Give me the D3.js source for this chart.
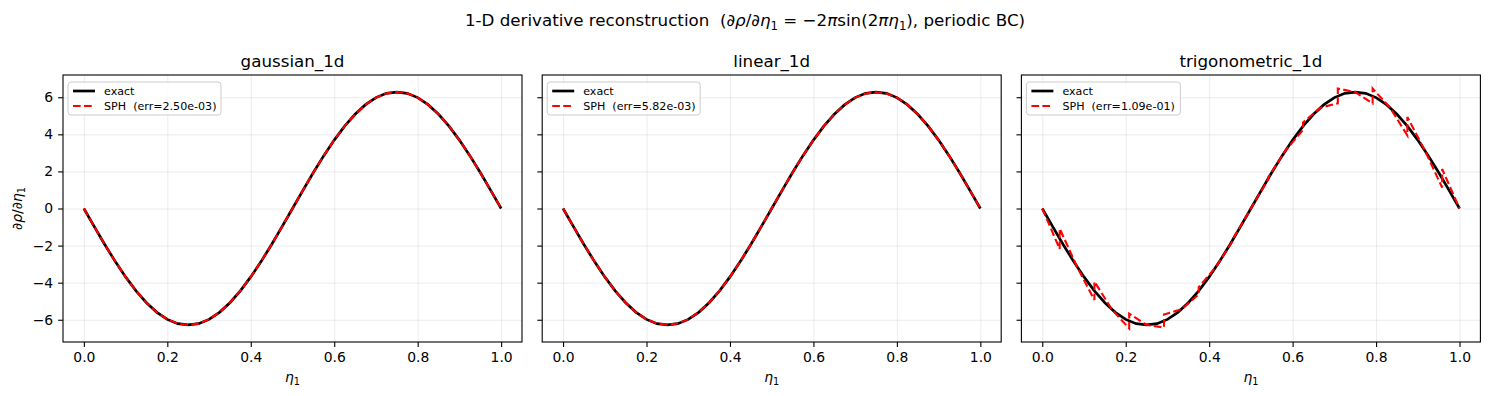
<!DOCTYPE html>
<html>
  <head>
    <meta charset="utf-8">
    <title>1-D derivative reconstruction</title>
    <style>
    body { margin: 0; background: #fff; }
    svg { font-family: "DejaVu Sans", sans-serif; }
    text { white-space: pre; }
    .grid line { stroke: #b0b0b0; stroke-opacity: 0.3; stroke-width: 0.8; }
    .grid path { display: none; }
    .axis path, .axis line { stroke: #000; stroke-width: 1.1; }
    .axis text { font-size: 13.9px; fill: #000; font-family: "DejaVu Sans", sans-serif; }
    </style>
  </head>
  <body>
    <svg width="1489" height="396"></svg>
    <script src="https://d3js.org/d3.v7.min.js"></script>
    <script>

      // ---- data ----
      var panelTitles = ["gaussian_1d", "linear_1d", "trigonometric_1d"];
      var errLabels = ["SPH  (err=2.50e-03)", "SPH  (err=5.82e-03)", "SPH  (err=1.09e-01)"];
      var xTicks = [0.0, 0.2, 0.4, 0.6, 0.8, 1.0];
      var yTicks = [-6, -4, -2, 0, 2, 4, 6];

      var eta = [0, 0.025, 0.05, 0.075, 0.1, 0.125, 0.15, 0.175, 0.2, 0.225,
                 0.25, 0.275, 0.3, 0.325, 0.35, 0.375, 0.4, 0.425, 0.45, 0.475,
                 0.5, 0.525, 0.55, 0.575, 0.6, 0.625, 0.65, 0.675, 0.7, 0.725,
                 0.75, 0.775, 0.8, 0.825, 0.85, 0.875, 0.9, 0.925, 0.95, 0.975, 1.0];

      var exact = [0, -0.98, -1.94, -2.85, -3.69, -4.44, -5.08, -5.60, -5.98, -6.21,
                   -6.28, -6.21, -5.98, -5.60, -5.08, -4.44, -3.69, -2.85, -1.94, -0.98,
                   0, 0.98, 1.94, 2.85, 3.69, 4.44, 5.08, 5.60, 5.98, 6.21,
                   6.28, 6.21, 5.98, 5.60, 5.08, 4.44, 3.69, 2.85, 1.94, 0.98, 0];

      var sphGaussian = [0, -0.98, -1.94, -2.85, -3.69, -4.44, -5.08, -5.60, -5.98, -6.21,
                         -6.28, -6.21, -5.98, -5.60, -5.08, -4.44, -3.69, -2.85, -1.94, -0.98,
                         0, 0.98, 1.94, 2.85, 3.69, 4.44, 5.08, 5.60, 5.98, 6.21,
                         6.28, 6.21, 5.98, 5.60, 5.08, 4.44, 3.69, 2.85, 1.94, 0.98, 0];

      var sphLinear = [0, -0.98, -1.94, -2.85, -3.69, -4.44, -5.08, -5.60, -5.98, -6.20,
                       -6.27, -6.20, -5.98, -5.60, -5.08, -4.44, -3.69, -2.85, -1.94, -0.98,
                       0, 0.98, 1.94, 2.85, 3.69, 4.44, 5.08, 5.60, 5.98, 6.20,
                       6.27, 6.20, 5.98, 5.60, 5.08, 4.44, 3.69, 2.85, 1.94, 0.98, 0];

      // trigonometric kernel: sawtooth jumps at the cell centres
      var etaTrig = [0, 0.0417, 0.0417, 0.0833, 0.125, 0.125, 0.1667, 0.2083, 0.2083, 0.25,
                     0.2917, 0.2917, 0.3333, 0.375, 0.375, 0.4167, 0.4583, 0.4583, 0.5,
                     0.5417, 0.5417, 0.5833, 0.625, 0.625, 0.6667, 0.7083, 0.7083, 0.75,
                     0.7917, 0.7917, 0.8333, 0.875, 0.875, 0.9167, 0.9583, 0.9583, 1.0];
      var sphTrig = [0, -2.18, -1.08, -3.14, -4.94, -3.94, -5.44, -6.47, -5.67, -6.28,
                     -6.42, -5.72, -5.44, -4.64, -4.24, -3.14, -1.68, -1.58, 0,
                     1.58, 1.68, 3.14, 4.24, 4.64, 5.44, 5.67, 6.47, 6.28,
                     5.67, 6.47, 5.44, 3.94, 4.94, 3.14, 1.13, 2.13, 0];

      var series = [
        {x: eta, y: sphGaussian},
        {x: eta, y: sphLinear},
        {x: etaTrig, y: sphTrig}
      ];

      // ---- layout ----
      var svg = d3.select("svg"),
          panelLeft = 63, panelStep = 479.2, panelWidth = 459,
          plotTop = 75, plotBottom = 342;

      var plotHeight = plotBottom - plotTop;

      var x = d3.scaleLinear().domain([-0.05, 1.05]).range([0, panelWidth]),
          y = d3.scaleLinear().domain([-7.2, 7.2]).range([plotHeight, 0]);

      // mathtext-like helper: parts are [text, "i" italic | "s" subscript | ""]
      function rich(sel, parts, size) {
        var shift = 0;
        parts.forEach(function(p) {
          var t = sel.append("tspan").text(p[0]);
          if (p[1].indexOf("i") >= 0) t.attr("font-style", "italic");
          if (p[1].indexOf("s") >= 0) {
            t.attr("font-size", size * 0.7).attr("dy", size * 0.22 - shift);
            shift = size * 0.22;
          } else if (shift) {
            t.attr("dy", -shift);
            shift = 0;
          }
        });
      }

      // suptitle
      var sup = svg.append("text")
          .attr("x", 745).attr("y", 26)
          .attr("text-anchor", "middle")
          .attr("font-size", 16.7);
      rich(sup, [["1-D derivative reconstruction  (", ""], ["\u2202\u03c1", "i"], ["/", ""],
                 ["\u2202\u03b7", "i"], ["1", "s"], [" = \u22122", ""], ["\u03c0", "i"], ["sin(2", ""],
                 ["\u03c0\u03b7", "i"], ["1", "s"], ["), periodic BC)", ""]], 16.7);

      var line = d3.line()
          .x(function(d) { return x(d[0]); })
          .y(function(d) { return y(d[1]); });

      panelTitles.forEach(function(title, i) {
        var g = svg.append("g")
            .attr("transform", "translate(" + (panelLeft + i * panelStep) + "," + plotTop + ")");

        // grid
        g.append("g").attr("class", "grid")
            .attr("transform", "translate(0," + plotHeight + ")")
            .call(d3.axisBottom(x).tickValues(xTicks).tickSize(-plotHeight).tickFormat(""));
        g.append("g").attr("class", "grid")
            .call(d3.axisLeft(y).tickValues(yTicks).tickSize(-panelWidth).tickFormat(""));

        // exact
        g.append("path")
            .datum(eta.map(function(v, k) { return [v, exact[k]]; }))
            .attr("fill", "none")
            .attr("stroke", "#000")
            .attr("stroke-width", 2.7)
            .attr("d", line);

        // SPH
        var s = series[i];
        g.append("path")
            .datum(s.x.map(function(v, k) { return [v, s.y[k]]; }))
            .attr("fill", "none")
            .attr("stroke", "#ff0000")
            .attr("stroke-width", 2.1)
            .attr("stroke-dasharray", "7.7,3.3")
            .attr("d", line);

        // axes
        g.append("g")
            .attr("class", "axis")
            .attr("transform", "translate(0," + plotHeight + ")")
            .call(d3.axisBottom(x).tickValues(xTicks).tickSize(4.9).tickPadding(4.9)
                  .tickFormat(d3.format(".1f")))
            .call(function(a) { a.select(".domain").remove(); });
        var ya = g.append("g")
            .attr("class", "axis")
            .call(d3.axisLeft(y).tickValues(yTicks).tickSize(4.9).tickPadding(4.9)
                  .tickFormat(function(d) { return String(d).replace("-", "\u2212"); }))
            .call(function(a) { a.select(".domain").remove(); });
        if (i > 0) ya.selectAll(".tick text").remove();

        g.append("rect")
            .attr("width", panelWidth).attr("height", plotHeight)
            .attr("fill", "none").attr("stroke", "#000").attr("stroke-width", 1.1);

        // title
        g.append("text")
            .attr("x", panelWidth / 2).attr("y", -8.5)
            .attr("text-anchor", "middle")
            .attr("font-size", 16.7)
            .text(title);

        // x label
        var xl = g.append("text")
            .attr("x", panelWidth / 2).attr("y", plotHeight + 40)
            .attr("text-anchor", "middle")
            .attr("font-size", 13.9);
        rich(xl, [["\u03b7", "i"], ["1", "s"]], 13.9);

        // legend
        var lg = g.append("g").attr("transform", "translate(5,7)");
        lg.append("rect")
            .attr("width", i === 2 ? 154 : 153).attr("height", 33)
            .attr("rx", 3)
            .attr("fill", "#fff").attr("fill-opacity", 0.8)
            .attr("stroke", "#cccccc").attr("stroke-width", 1);
        lg.append("line").attr("x1", 5).attr("x2", 27).attr("y1", 9).attr("y2", 9)
            .attr("stroke", "#000").attr("stroke-width", 2.7);
        lg.append("line").attr("x1", 5).attr("x2", 27).attr("y1", 24).attr("y2", 24)
            .attr("stroke", "#ff0000").attr("stroke-width", 2.1).attr("stroke-dasharray", "7.7,3.3");
        lg.append("text").attr("x", 36).attr("y", 13).attr("font-size", 11.1).text("exact");
        lg.append("text").attr("x", 36).attr("y", 28).attr("font-size", 11.1).text(errLabels[i]);
      });

      // y label
      var yl = svg.append("text")
          .attr("transform", "translate(22," + ((plotTop + plotBottom) / 2) + ") rotate(-90)")
          .attr("text-anchor", "middle")
          .attr("font-size", 13.9);
      rich(yl, [["\u2202\u03c1", "i"], ["/", ""], ["\u2202\u03b7", "i"], ["1", "s"]], 13.9);

  </script>
  </body>
</html>
